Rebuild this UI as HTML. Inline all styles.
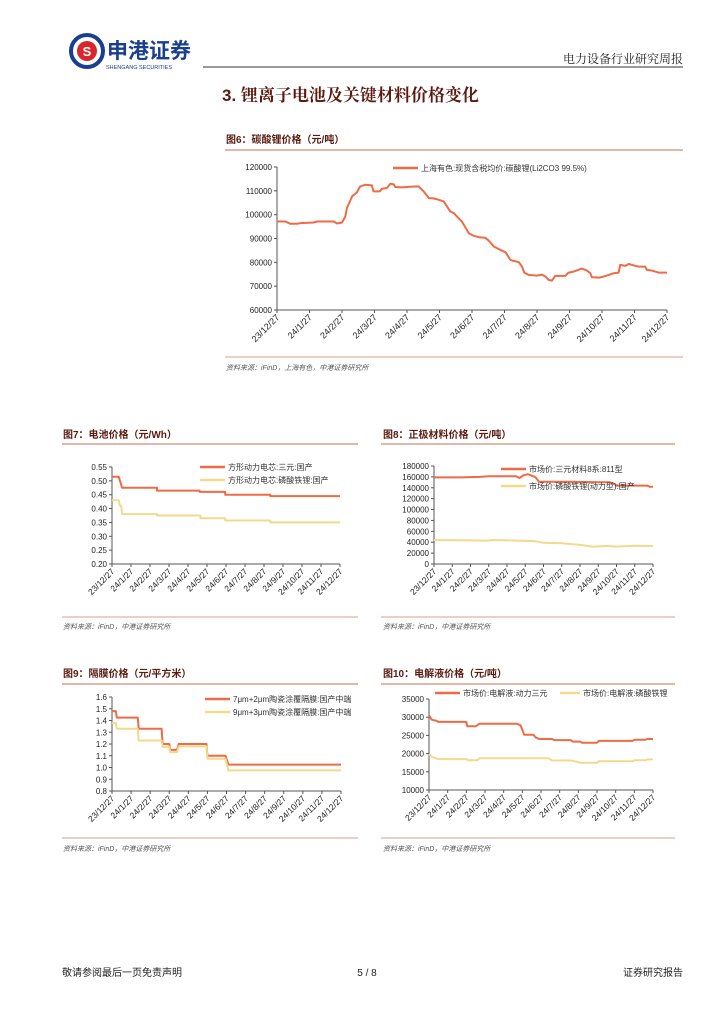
<!DOCTYPE html>
<html><head><meta charset="utf-8">
<style>
body{margin:0;background:#fff;}
svg{display:block;font-family:"Liberation Sans","Noto Sans CJK SC",sans-serif;}
</style></head>
<body>
<svg id="pg" width="724" height="1024" viewBox="0 0 724 1024" xmlns="http://www.w3.org/2000/svg">
<g>
<circle cx="87" cy="51" r="16" fill="none" stroke="#1a3f8f" stroke-width="4"/>
<circle cx="87" cy="51" r="10" fill="#d8262c"/>
<text x="87" y="56" font-size="13" font-weight="bold" fill="#fff" text-anchor="middle">S</text>
<text x="107" y="58" font-size="21" font-weight="bold" fill="#1a3f8f" font-family="Noto Sans CJK SC, sans-serif">申港证券</text>
<text x="106" y="69" font-size="5.5" fill="#1a3f8f">SHENGANG SECURITIES</text>
</g>
<line x1="203" y1="67" x2="683" y2="67" stroke="#333" stroke-width="1"/>
<text x="683" y="63" font-size="12" text-anchor="end" fill="#222" font-family="Noto Serif CJK SC, serif">电力设备行业研究周报</text>
<text x="222" y="101" font-size="17" font-weight="bold" fill="#5a1a10" font-family="Liberation Sans, Noto Serif CJK SC, serif">3. 锂离子电池及关键材料价格变化</text>

<text x="226" y="143" font-size="10" font-weight="bold" fill="#5a1a10">图6：碳酸锂价格（元/吨）</text>
<line x1="225" y1="150" x2="683" y2="150" stroke="#d8a090" stroke-width="1.5"/>
<line x1="225" y1="357" x2="683" y2="357" stroke="#d8a090" stroke-width="1"/>
<text x="226" y="370" font-size="7" font-style="italic" fill="#555">资料来源：iFinD，上海有色，中港证券研究所</text>

<text x="63" y="438" font-size="10" font-weight="bold" fill="#5a1a10">图7：电池价格（元/Wh）</text>
<line x1="62" y1="444" x2="358" y2="444" stroke="#d8a090" stroke-width="1.5"/>
<line x1="62" y1="617" x2="358" y2="617" stroke="#d8a090" stroke-width="1"/>
<text x="63" y="629" font-size="7" font-style="italic" fill="#555">资料来源：iFinD，中港证券研究所</text>

<text x="383" y="438" font-size="10" font-weight="bold" fill="#5a1a10">图8：正极材料价格（元/吨）</text>
<line x1="381" y1="444" x2="675" y2="444" stroke="#d8a090" stroke-width="1.5"/>
<line x1="381" y1="617" x2="675" y2="617" stroke="#d8a090" stroke-width="1"/>
<text x="383" y="629" font-size="7" font-style="italic" fill="#555">资料来源：iFinD，中港证券研究所</text>

<text x="63" y="677" font-size="10" font-weight="bold" fill="#5a1a10">图9：隔膜价格（元/平方米）</text>
<line x1="62" y1="684" x2="358" y2="684" stroke="#d8a090" stroke-width="1.5"/>
<line x1="62" y1="838" x2="358" y2="838" stroke="#d8a090" stroke-width="1"/>
<text x="63" y="851" font-size="7" font-style="italic" fill="#555">资料来源：iFinD，中港证券研究所</text>

<text x="383" y="677" font-size="10" font-weight="bold" fill="#5a1a10">图10：电解液价格（元/吨）</text>
<line x1="381" y1="684" x2="675" y2="684" stroke="#d8a090" stroke-width="1.5"/>
<line x1="381" y1="838" x2="675" y2="838" stroke="#d8a090" stroke-width="1"/>
<text x="383" y="851" font-size="7" font-style="italic" fill="#555">资料来源：iFinD，中港证券研究所</text>

<text x="62" y="976" font-size="10" fill="#222">敬请参阅最后一页免责声明</text>
<text x="367" y="976" font-size="10" fill="#222" text-anchor="middle">5 / 8</text>
<text x="683" y="976" font-size="10" fill="#222" text-anchor="end">证券研究报告</text>
<g id="charts"></g>
</svg>
<script>
const monthLabels=["23/12/27","24/1/27","24/2/27","24/3/27","24/4/27","24/5/27","24/6/27","24/7/27","24/8/27","24/9/27","24/10/27","24/11/27","24/12/27"];
// Fig6 lithium carbonate
const li_t=[0,0.26,0.41,0.62,0.72,1.13,1.23,1.74,1.85,2.0,2.1,2.15,2.31,2.46,2.56,2.72,2.92,2.97,3.16,3.23,3.38,3.49,3.59,3.64,3.85,4.0,4.1,4.36,4.51,4.67,4.82,4.97,5.13,5.23,5.33,5.44,5.54,5.69,5.79,5.9,6.05,6.21,6.41,6.51,6.67,6.87,7.03,7.18,7.28,7.44,7.54,7.61,7.74,8.0,8.15,8.26,8.36,8.46,8.56,8.87,8.97,9.13,9.38,9.54,9.64,9.69,9.9,10.05,10.21,10.36,10.51,10.56,10.72,10.82,11.03,11.13,11.33,11.38,11.54,11.74,12];
const li_v=[97150,97150,96170,96170,96450,96730,97150,97150,96300,96700,99250,102750,107660,109340,111870,112570,112290,109770,109770,110890,111170,112990,112710,111590,111450,111590,111730,111870,109800,106960,106820,106260,105560,103460,101360,100650,99250,97150,94770,92240,91120,90560,90280,89160,86630,85230,84250,81020,80600,80040,78220,75700,74720,74440,74860,74020,72610,72330,74300,74300,75700,76120,77380,76540,75420,73740,73600,74020,74720,75420,75700,78920,78500,79340,78500,78220,78220,76820,76540,75700,75700];
const li_ticks=[60000,70000,80000,90000,100000,110000,120000];
// Fig7 battery
const bat_t=[0,0.35,0.44,0.53,2.37,2.37,4.61,4.61,5.96,5.96,8.33,8.33,12];
const bat_ncm=[0.515,0.515,0.495,0.475,0.475,0.465,0.465,0.46,0.46,0.45,0.45,0.445,0.445];
const bat_lfp_t=[0,0.35,0.42,0.48,0.54,2.37,2.37,4.65,4.65,5.96,5.96,8.33,8.33,12];
const bat_lfp=[0.43,0.43,0.41,0.41,0.38,0.38,0.375,0.375,0.365,0.365,0.357,0.357,0.35,0.35];
const bat_ticks=[0.20,0.25,0.30,0.35,0.40,0.45,0.50,0.55];
// Fig8 cathode
const cat_t=[0,1.5,2.5,3.0,4.5,4.69,4.9,5.15,5.45,5.57,5.75,7.5,9.0,9.63,9.9,10.0,11.7,11.8,12];
const cat_ncm=[159000,159000,160000,161000,161000,158000,163000,165000,161000,159000,151000,151000,150000,150000,147000,144000,144000,142000,142000];
const cat_lfp_t=[0,3,3.1,4.5,5.5,6.0,7.0,8.0,8.7,9.5,10.0,11.0,12];
const cat_lfp=[44000,43000,44000,43000,42000,39000,38000,35000,32000,33000,32000,33500,33000];
const cat_ticks=[0,20000,40000,60000,80000,100000,120000,140000,160000,180000];
// Fig9 separator
const sep_t=[0,0.2,0.25,1.35,1.4,2.6,2.65,3.0,3.05,3.4,3.5,4.95,5.0,5.95,6.1,12];
const sep_7um=[1.48,1.48,1.425,1.425,1.33,1.33,1.2,1.2,1.15,1.15,1.2,1.2,1.1,1.1,1.025,1.025];
const sep_9um=[1.38,1.38,1.33,1.33,1.23,1.23,1.175,1.175,1.13,1.13,1.18,1.18,1.075,1.075,0.975,0.975];
const sep_ticks=[0.8,0.9,1.0,1.1,1.2,1.3,1.4,1.5,1.6];
// Fig10 electrolyte
const ele_t=[0,0.15,0.4,0.5,2.0,2.05,2.5,2.7,4.7,4.9,5.1,5.6,5.7,5.9,6.6,6.7,7.6,7.7,8.1,8.2,9.0,9.1,10.9,11.0,11.6,11.7,12];
const ele_ncm=[30500,29300,29000,28700,28700,27500,27500,28200,28200,27800,25200,25200,24500,24000,24000,23700,23700,23300,23300,23000,23000,23500,23500,23800,23800,24000,24000];
const ele_lfp_t=[0,0.2,0.5,2.0,2.1,2.6,2.7,6.4,6.6,7.6,7.9,8.1,9.0,9.1,10.9,11.0,11.6,11.7,12];
const ele_lfp=[19800,19000,18500,18500,18200,18200,18700,18700,18100,18100,17800,17500,17500,17900,17900,18200,18200,18400,18400];
const ele_ticks=[10000,15000,20000,25000,30000,35000];

const NS="http://www.w3.org/2000/svg";
const root=document.getElementById('charts');
function mk(tag,attrs,parent){const e=document.createElementNS(NS,tag);for(const k in attrs)e.setAttribute(k,attrs[k]);(parent||root).appendChild(e);return e;}
function chart(name,c){
  const g=mk('g',{});
  
  
  const ymin=c.ticks[0],ymax=c.ticks[c.ticks.length-1];
  const X=t=>c.x0+(c.x1-c.x0)*t/12;
  const Y=v=>c.y1-(c.y1-c.y0)*(v-ymin)/(ymax-ymin);
  const ax=mk('path',{d:`M${c.x0},${c.y0}V${c.y1}H${c.x1}`,fill:'none',stroke:'#555','stroke-width':1},g);
  
  
  c.ticks.forEach(v=>{
    mk('line',{x1:c.x0-3,x2:c.x0,y1:Y(v),y2:Y(v),stroke:'#555'},g);
    const t=mk('text',{x:c.x0-5,y:Y(v)+3,'font-size':c.fs,'text-anchor':'end',fill:'#222'},g);
    t.textContent=c.fmt(v);
    
    
  });
  monthLabels.forEach((l,i)=>{
    const x=X(i);
    mk('line',{x1:x,x2:x,y1:c.y1,y2:c.y1+3,stroke:'#555'},g);
    const t=mk('text',{x:x+3,y:c.y1+8,'font-size':c.xfs,'text-anchor':'end',fill:'#222',transform:`rotate(-45 ${x+3} ${c.y1+8})`},g);
    t.textContent=l;
    
    
  });
  c.series.forEach((s,si)=>{
    const p=mk('polyline',{points:s.t.map((t,i)=>X(t).toFixed(1)+','+Y(s.v[i]).toFixed(1)).join(' '),fill:'none',stroke:s.color,'stroke-width':2,'stroke-linejoin':'round'},g);
    
    
    const lg=mk('g',{},g);
    
    
    mk('line',{x1:s.lx,x2:s.lx+s.lw,y1:s.ly,y2:s.ly,stroke:s.color,'stroke-width':2.5},lg);
    const lt=mk('text',{x:s.lx+s.lw+3,y:s.ly+3,'font-size':c.fs,fill:'#333'},lg);
    lt.textContent=s.name;
  });
}
const RED='#ef6a45',YEL='#f3d98c';
chart('fig6-lithium-carbonate-chart',{x0:277,x1:667,y0:167,y1:310,ticks:li_ticks,fs:8,xfs:9,fmt:v=>String(v),
  series:[{t:li_t,v:li_v,color:RED,name:'上海有色:现货含税均价:碳酸锂(Li2CO3 99.5%)',lx:393,lw:25,ly:168}]});
chart('fig7-battery-price-chart',{x0:112,x1:340,y0:467,y1:564,ticks:bat_ticks,fs:8,xfs:8.5,fmt:v=>v.toFixed(2),
  series:[{t:bat_t,v:bat_ncm,color:RED,name:'方形动力电芯:三元:国产',lx:200,lw:25,ly:467},
          {t:bat_lfp_t,v:bat_lfp,color:YEL,name:'方形动力电芯:磷酸铁锂:国产',lx:200,lw:25,ly:480}]});
chart('fig8-cathode-price-chart',{x0:434,x1:653,y0:466,y1:564,ticks:cat_ticks,fs:8,xfs:8.5,fmt:v=>String(v),
  series:[{t:cat_t,v:cat_ncm,color:RED,name:'市场价:三元材料8系:811型',lx:501,lw:25,ly:469},
          {t:cat_lfp_t,v:cat_lfp,color:YEL,name:'市场价:磷酸铁锂(动力型):国产',lx:501,lw:25,ly:486}]});
chart('fig9-separator-price-chart',{x0:112,x1:341,y0:697,y1:791,ticks:sep_ticks,fs:8,xfs:8.5,fmt:v=>v.toFixed(1),
  series:[{t:sep_t,v:sep_7um,color:RED,name:'7μm+2μm陶瓷涂覆隔膜:国产中端',lx:205,lw:25,ly:699},
          {t:sep_t,v:sep_9um,color:YEL,name:'9μm+3μm陶瓷涂覆隔膜:国产中端',lx:205,lw:25,ly:712}]});
chart('fig10-electrolyte-price-chart',{x0:429,x1:653,y0:699,y1:790,ticks:ele_ticks,fs:8,xfs:8.5,fmt:v=>String(v),
  series:[{t:ele_t,v:ele_ncm,color:RED,name:'市场价:电解液:动力三元',lx:435,lw:25,ly:693},
          {t:ele_lfp_t,v:ele_lfp,color:YEL,name:'市场价:电解液:磷酸铁锂',lx:560,lw:20,ly:693}]});
</script>
</body></html>
